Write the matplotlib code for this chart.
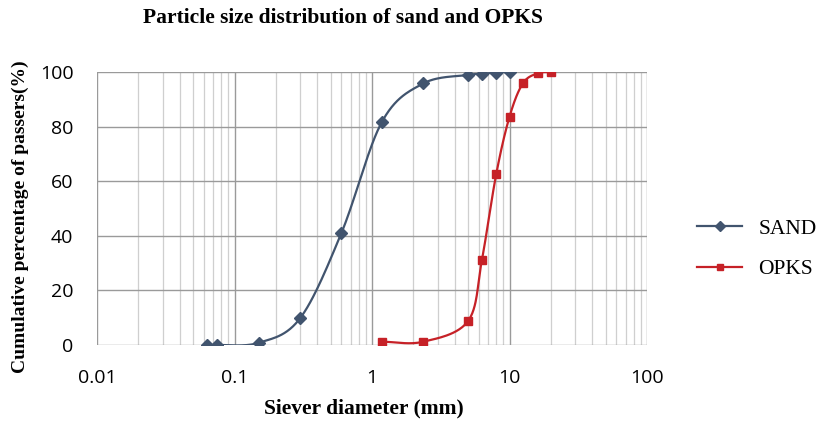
import numpy as np
import matplotlib.pyplot as plt
from matplotlib.ticker import FixedLocator, NullFormatter

# sieve sizes (mm) and cumulative passing (%)
sand_size = [0.063, 0.075, 0.15, 0.3, 0.6, 1.18, 2.36, 5, 6.3, 8, 10]
sand_pass = [0.0, 0.0, 0.8, 9.8, 41.1, 81.7, 95.8, 98.9, 99.3, 99.8, 100.0]

opks_size = [1.18, 2.36, 5, 6.3, 8, 10, 12.5, 16, 20]
opks_pass = [1.2, 1.2, 8.8, 31.2, 62.5, 83.6, 95.8, 99.5, 100.0]

xticks = [0.01, 0.1, 1, 10, 100]
xticklabels = ["0.01", "0.1", "1", "10", "100"]
yticks = [0, 20, 40, 60, 80, 100]


def smooth(x, y, n=30):
    # Excel-like smoothed line: Catmull-Rom through the points in log-x space
    lx = np.log10(x)
    y = np.asarray(y, float)
    px = np.concatenate([[2 * lx[0] - lx[1]], lx, [2 * lx[-1] - lx[-2]]])
    py = np.concatenate([[2 * y[0] - y[1]], y, [2 * y[-1] - y[-2]]])
    outx, outy = [], []
    t = np.linspace(0, 1, n)
    for i in range(1, len(px) - 2):
        for arr, out in ((px, outx), (py, outy)):
            p0, p1, p2, p3 = arr[i - 1], arr[i], arr[i + 1], arr[i + 2]
            out.extend(0.5 * ((2 * p1) + (-p0 + p2) * t
                              + (2 * p0 - 5 * p1 + 4 * p2 - p3) * t ** 2
                              + (-p0 + 3 * p1 - 3 * p2 + p3) * t ** 3))
    return 10 ** np.array(outx), np.array(outy)


plt.rcParams['font.family'] = ['Liberation Serif', 'DejaVu Serif']

W, H = 821, 421
fig = plt.figure(figsize=(W / 100, H / 100), dpi=100)
ax = fig.add_axes([97 / W, 1 - 345 / H, (647 - 97) / W, (345 - 72) / H])

sand_col = '#41546e'
opks_col = '#c62127'

sx, sy = smooth(sand_size, sand_pass)
ax.plot(sx, sy, color=sand_col, linewidth=1.6)
ax.plot(sand_size, sand_pass, linestyle='none', marker='D', markersize=6, color=sand_col)
ax.plot([], [], color=sand_col, marker='D', markersize=5, linewidth=1.6, label='SAND')

ox, oy = smooth(opks_size, opks_pass)
ax.plot(ox, oy, color=opks_col, linewidth=1.6)
ax.plot(opks_size, opks_pass, linestyle='none', marker='s', markersize=6, color=opks_col)
ax.plot([], [], color=opks_col, marker='s', markersize=5, linewidth=1.6, label='OPKS')

ax.set_xscale('log')
ax.set_xlim(0.01, 100)
ax.set_ylim(0, 100)
ax.set_xticks(xticks)
ax.set_xticklabels(xticklabels)
ax.set_yticks(yticks)
minors = [m * d for d in [0.01, 0.1, 1, 10] for m in range(2, 10)]
ax.xaxis.set_minor_locator(FixedLocator(minors))
ax.xaxis.set_minor_formatter(NullFormatter())
ax.tick_params(which='both', length=0)
ax.tick_params(axis='x', pad=17)
ax.tick_params(axis='y', pad=17)
for lab in ax.get_xticklabels() + ax.get_yticklabels():
    lab.set_family(['Open Sans', 'DejaVu Sans'])
    lab.set_fontsize(14)

ax.grid(True, which='major', color='#9a9a9a', linewidth=1.0)
ax.grid(True, which='minor', axis='x', color='#cfcfcf', linewidth=0.9)
ax.set_axisbelow(True)
for s in ax.spines.values():
    s.set_visible(False)

fig.text(343 / W, 1 - 18 / H, 'Particle size distribution of sand and OPKS',
         fontsize=15.5, fontweight='bold', ha='center', va='center')
fig.text(364 / W, 1 - 408 / H, 'Siever diameter (mm)',
         fontsize=15.5, fontweight='bold', ha='center', va='center')
fig.text(20 / W, 1 - 217 / H, 'Cumulative percentage of passers(%)',
         fontsize=14, fontweight='bold', ha='center', va='center', rotation=90)

fig.legend(loc='center left', bbox_to_anchor=(697 / W, 1 - 249 / H), frameon=False,
           fontsize=15.5, handlelength=2.1, labelspacing=0.95, handletextpad=0.75,
           borderpad=0, borderaxespad=0)

fig.savefig('out.png', dpi=100)
